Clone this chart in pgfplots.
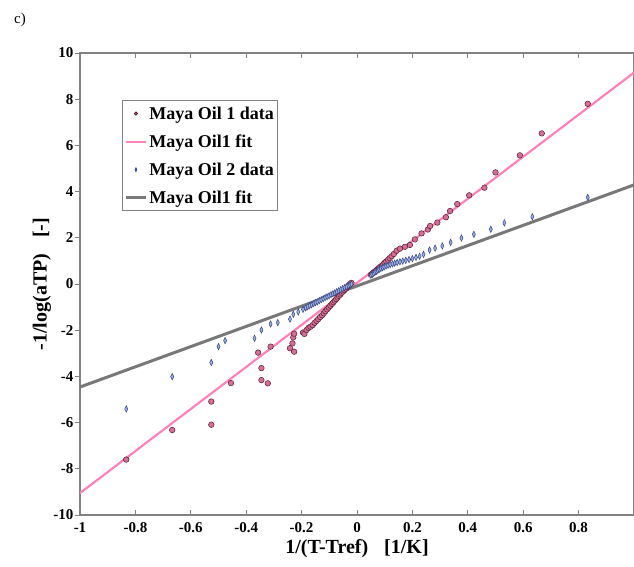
\documentclass[border=0pt]{standalone}
\usepackage{fontspec}
\setmainfont{Liberation Serif}
\usepackage{pgfplots}
\pgfplotsset{compat=1.18}
\definecolor{pinkfit}{RGB}{255,130,185}
\definecolor{greyfit}{RGB}{120,120,120}
\definecolor{oilA}{RGB}{215,110,150}
\definecolor{oilAedge}{RGB}{80,30,45}
\definecolor{oilB}{RGB}{155,175,225}
\definecolor{oilBedge}{RGB}{55,70,130}
\definecolor{axgrey}{RGB}{130,130,130}
\begin{document}
\begin{tikzpicture}
\begin{axis}[
  name=ax, at={(0,0)}, anchor=south west,
  scale only axis, width=554pt, height=462pt,
  xmin=-1, xmax=1, ymin=-10, ymax=10,
  xtick={-1,-0.8,-0.6,-0.4,-0.2,0,0.2,0.4,0.6,0.8,1},
  xticklabels={-1,-0.8,-0.6,-0.4,-0.2,0,0.2,0.4,0.6,0.8,},
  ytick={-10,-8,-6,-4,-2,0,2,4,6,8,10},
  xtick align=inside,
  ytick align=outside,
  major tick length=5pt,
  axis line style={draw=axgrey, line width=1.2pt},
  tick style={draw=axgrey, line width=0.8pt},
  /pgf/number format/assume math mode=true,
  tick label style={font=\fontsize{15}{15}\selectfont\bfseries},
  xticklabel style={yshift=-4pt},
  yticklabel style={xshift=2pt},
  xlabel={1/(T-Tref)\hspace{0.8em}[1/K]},
  ylabel={-1/log(aTP)\hspace{0.8em}[-]},
  label style={font=\fontsize{20}{20}\selectfont\bfseries},
  xlabel style={at={(axis description cs:0.5,-0.0736)}, anchor=center},
  ylabel style={at={(axis description cs:-0.0686,0.5)}, anchor=center},
  legend style={at={(rel axis cs:0.0758,0.898)}, anchor=north west,
    draw=axgrey, line width=0.8pt, fill=white,
    font=\fontsize{18}{18}\selectfont\bfseries,
    inner xsep=2pt, inner ysep=4pt, row sep=10pt},
  legend cell align=left,
  legend image code/.code={\draw[#1, mark size=1.5pt] plot coordinates {(0pt,0pt)(10pt,0pt)(20pt,0pt)};},
]
% Maya Oil 1 data
\addplot[only marks, mark=*, mark size=2.8pt, mark options={fill=oilA, draw=oilAedge, line width=0.5pt},
  legend image code/.code={\draw[only marks, mark=*, mark size=1.6pt, mark options={fill=oilA, draw=oilAedge}] plot coordinates {(10pt,0pt)};}]
coordinates {
(-0.833,-7.60) (-0.667,-6.32) (-0.526,-5.09) (-0.526,-6.09) (-0.455,-4.29)
(-0.357,-2.97) (-0.345,-3.64) (-0.345,-4.16) (-0.322,-4.30) (-0.312,-2.71)
(-0.242,-2.78) (-0.233,-2.57) (-0.230,-2.31) (-0.227,-2.93) (-0.227,-2.15)
(-0.195,-2.10) (-0.190,-2.16) (-0.182,-1.99) (-0.175,-1.90) (-0.168,-1.85)
(-0.160,-1.78) (-0.153,-1.68) (-0.146,-1.60) (-0.140,-1.52) (-0.133,-1.43)
(-0.126,-1.35) (-0.120,-1.27) (-0.114,-1.18) (-0.108,-1.10) (-0.102,-1.02)
(-0.096,-0.94) (-0.090,-0.86) (-0.085,-0.79) (-0.080,-0.72) (-0.075,-0.65)
(-0.070,-0.58) (-0.065,-0.51) (-0.060,-0.45) (-0.055,-0.38) (-0.050,-0.32)
(-0.045,-0.26) (-0.040,-0.20) (-0.036,-0.14) (-0.032,-0.09) (-0.028,-0.04)
(-0.024,0.01) (-0.020,0.05)
(0.050,0.40) (0.055,0.45) (0.060,0.50) (0.065,0.55) (0.070,0.60)
(0.075,0.65) (0.080,0.70) (0.085,0.75) (0.090,0.80) (0.095,0.86)
(0.100,0.92) (0.106,0.98) (0.112,1.05) (0.118,1.12) (0.125,1.20)
(0.133,1.30) (0.143,1.44) (0.155,1.53) (0.173,1.61) (0.191,1.69)
(0.209,1.93) (0.233,2.19) (0.256,2.36) (0.264,2.51) (0.290,2.66)
(0.321,2.89) (0.336,3.16) (0.362,3.46) (0.405,3.84) (0.460,4.17)
(0.500,4.83) (0.588,5.57) (0.667,6.52) (0.833,7.80)
};
\addlegendentry{Maya Oil 1 data}
% Maya Oil 1 fit
\addplot[pinkfit, line width=2.2pt] coordinates {(-1,-9.05) (1,9.15)};
\addlegendentry{Maya Oil1 fit}
% Maya Oil 2 data
\addplot[only marks, mark=diamond*, mark size=3.2pt, mark options={fill=oilB, draw=oilBedge, line width=0.5pt, xscale=0.65},
  legend image code/.code={\draw[only marks, mark=diamond*, mark size=1.8pt, mark options={fill=oilB, draw=oilBedge, xscale=0.65}] plot coordinates {(10pt,0pt)};}]
coordinates {
(-0.833,-5.41) (-0.667,-4.01) (-0.526,-3.40) (-0.500,-2.71) (-0.476,-2.45)
(-0.370,-2.35) (-0.345,-1.99) (-0.312,-1.73) (-0.286,-1.67) (-0.242,-1.52)
(-0.230,-1.31) (-0.212,-1.21) (-0.195,-1.10)
(-0.185,-1.03) (-0.178,-0.98) (-0.171,-0.94) (-0.164,-0.90) (-0.157,-0.85)
(-0.150,-0.81) (-0.143,-0.77) (-0.136,-0.72) (-0.129,-0.68) (-0.122,-0.64)
(-0.115,-0.59) (-0.108,-0.55) (-0.101,-0.51) (-0.094,-0.46) (-0.087,-0.42)
(-0.080,-0.38) (-0.073,-0.33) (-0.066,-0.29) (-0.059,-0.25) (-0.052,-0.20)
(-0.045,-0.16) (-0.038,-0.12) (-0.031,-0.07) (-0.025,-0.04) (-0.020,0.00)
(0.050,0.38) (0.055,0.42) (0.060,0.47) (0.065,0.51) (0.070,0.55)
(0.075,0.59) (0.080,0.63) (0.086,0.67) (0.092,0.71) (0.098,0.74)
(0.105,0.78) (0.112,0.81) (0.120,0.84) (0.128,0.87) (0.136,0.90)
(0.145,0.93) (0.155,0.96) (0.165,0.99) (0.176,1.02) (0.188,1.06)
(0.200,1.10) (0.213,1.15) (0.226,1.20) (0.240,1.28) (0.262,1.47)
(0.282,1.55) (0.308,1.65) (0.338,1.80) (0.377,1.99) (0.422,2.15)
(0.483,2.37) (0.532,2.65) (0.633,2.91) (0.833,3.75)
};
\addlegendentry{Maya Oil 2 data}
% second fit
\addplot[greyfit, line width=3pt] coordinates {(-1,-4.46) (1,4.29)};
\addlegendentry{Maya Oil1 fit}
\end{axis}
\node[anchor=center, font=\fontsize{15}{15}\selectfont] at ([shift={(-60pt,495pt)}]ax.south west) {c)};
\pgfresetboundingbox
\path[use as bounding box] ([shift={(-80pt,-51pt)}]ax.south west) rectangle ([shift={(554pt,515pt)}]ax.south west);
\end{tikzpicture}
\end{document}
